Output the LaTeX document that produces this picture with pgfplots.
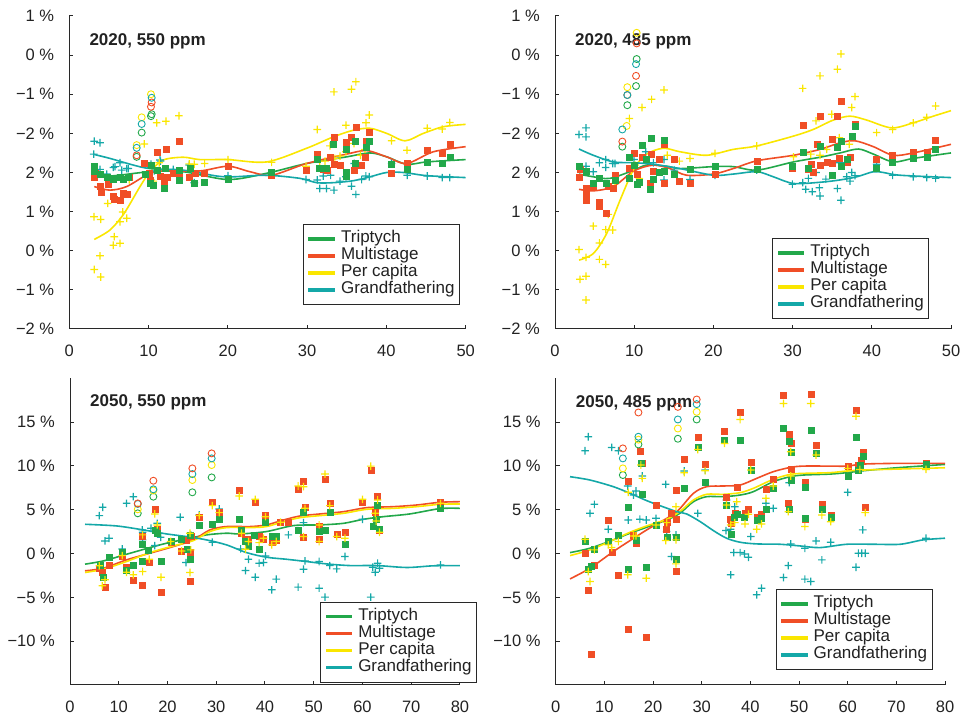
\documentclass[border=0pt]{standalone}
\usepackage{fontspec}
\setmainfont{Liberation Sans}
\usepackage{pgfplots}
\pgfplotsset{compat=1.18}
\definecolor{cg}{RGB}{34,168,74}
\definecolor{cr}{RGB}{240,78,38}
\definecolor{cy}{RGB}{250,230,0}
\definecolor{ct}{RGB}{20,168,168}
\definecolor{txt}{RGB}{34,34,34}
\definecolor{axc}{RGB}{40,40,40}
\newcommand\tickfont{\fontsize{16.5}{18}\selectfont}
\newcommand\legfont{\fontsize{17}{17}\selectfont}
\newcommand\ttlfont{\fontsize{17}{18}\selectfont\bfseries}
\pgfdeclareplotmark{fplus}{%
  \pgfpathrectangle{\pgfpoint{-\pgfplotmarksize}{-0.6pt}}{\pgfpoint{2\pgfplotmarksize}{1.2pt}}%
  \pgfpathrectangle{\pgfpoint{-0.6pt}{-\pgfplotmarksize}}{\pgfpoint{1.2pt}{2\pgfplotmarksize}}%
  \pgfusepathqfill}
\pgfplotsset{
  panel/.style={
    scale only axis, anchor=south west,
    axis x line*=bottom, axis y line*=left,
    tick align=inside, major tick length=4pt,
    axis line style={line width=1pt, color=axc},
    every tick/.style={line width=1pt, color=axc},
    /pgf/number format/assume math mode=true,
    ticklabel style={font=\tickfont, text=txt},
    xticklabel style={anchor=north, inner sep=0pt, yshift=-16pt},
    yticklabel style={anchor=east, inner sep=0pt, xshift=-15pt},
    legend cell align=left,
    legend style={anchor=south east, draw=axc, line width=1pt, font=\legfont, text=txt,
      inner xsep=5pt, inner ysep=6pt, row sep=0pt,
      nodes={inner sep=0pt, text height=12.5pt, text depth=4.5pt},
      /tikz/every odd column/.append style={column sep=6pt}},
    legend image code/.code={\fill[#1] (0pt,-0.8pt) rectangle (25pt,0.8pt);},
  },
  gsq/.style={forget plot, only marks, mark=square*, mark size=3pt, color=cg, mark options={line width=0.3pt}},
  rsq/.style={forget plot, only marks, mark=square*, mark size=3pt, color=cr, mark options={line width=0.3pt}},
  ypl/.style={forget plot, only marks, mark=fplus, mark size=3.8pt, color=cy},
  tpl/.style={forget plot, only marks, mark=fplus, mark size=3.8pt, color=ct},
  circ/.style={forget plot, only marks, mark=o, mark size=3.5pt, color=#1, mark options={line width=0.9pt}},
  ln/.style={no marks, smooth, line width=1.6pt, color=#1},
}
\begin{document}
\begin{tikzpicture}
\useasboundingbox (0,0) rectangle (965pt,719pt);
% ---------------- 2020, 550 ppm
\begin{axis}[panel, at={(69.3pt,390pt)}, width=396.4pt, height=313pt,
  xmin=0, xmax=50, ymin=-2, ymax=6, xtick={0,10,...,50}, ytick={-2,-1,...,6},
  yticklabels={−2 \%,−1 \%,0 \%,1 \%,2 \%,−2 \%,−1 \%,0 \%,1 \%},
  legend style={at={(0.9856,0.0767)}}]
\addplot[tpl] coordinates {(3.15,2.80)(3.87,2.76)(3.08,2.47)(3.87,2.08)(4.72,1.96)(5.55,2.13)(5.76,2.15)(6.39,2.25)(6.61,2.06)(7.24,2.1)(7.44,2.1)(9.55,2.21)(9.84,2.21)(10.3,2.21)(10.72,2.04)(11.44,2.32)(11.52,2.29)(13.11,2.08)(15.13,2.19)(15.76,1.74)(20.01,1.92)(29.85,1.82)(31.27,1.81)(31.6,1.59)(32.03,1.91)(32.45,1.59)(32.96,1.93)(33.38,1.55)(34.14,1.78)(34.89,1.89)(35.6,1.65)(35.94,2.23)(36.15,1.44)(36.87,1.82)(37.41,1.91)(37.83,1.89)(40.65,2.23)(42.62,1.93)(45.15,1.91)(47.03,1.87)(48.0,1.87)};
\addplot[ypl] coordinates {(3.12,0.87)(3.96,0.80)(4.84,1.21)(6.73,0.99)(7.24,0.83)(6.39,0.74)(5.67,0.36)(5.55,0.14)(6.39,0.19)(3.87,-0.13)(3.15,-0.48)(3.96,-0.67)(9.46,2.73)(11.02,3.27)(12.19,3.31)(13.83,3.45)(10.3,1.81)(10.6,1.78)(7.57,1.81)(11.35,2.25)(12.28,1.85)(15.13,2.22)(15.76,2.21)(17.07,2.23)(20.01,2.33)(25.52,2.26)(29.85,2.16)(31.28,3.10)(31.6,2.29)(32.25,2.29)(32.88,2.68)(33.38,4.06)(33.5,2.36)(34.14,2.42)(34.89,3.21)(34.89,2.53)(35.6,4.13)(35.9,2.74)(36.15,4.32)(36.74,2.44)(37.29,2.59)(37.42,3.27)(37.83,3.47)(40.65,2.81)(42.6,2.57)(45.15,3.13)(47.03,3.11)(48.0,3.28)};
\addplot[rsq] coordinates {(3.15,1.87)(3.24,1.99)(3.87,1.65)(3.96,1.51)(4.84,1.7)(5.55,1.40)(5.67,1.31)(6.39,1.29)(6.81,1.47)(7.24,1.45)(7.57,1.89)(9.42,2.25)(10.09,1.99)(10.18,1.81)(11.02,2.53)(11.44,1.91)(11.98,1.74)(12.19,2.59)(12.36,1.87)(13.11,1.99)(13.83,2.8)(13.83,1.93)(15.13,1.89)(15.85,1.99)(17.07,1.99)(20.01,2.17)(25.52,1.92)(29.85,2.06)(31.27,2.47)(31.6,2.1)(32.03,2.08)(32.54,2.06)(32.96,2.39)(33.38,2.91)(33.42,2.21)(34.14,2.18)(34.89,2.77)(35.6,2.91)(35.94,2.06)(36.15,3.17)(36.82,2.18)(37.29,2.38)(37.41,2.79)(37.83,3.04)(40.65,1.98)(42.62,2.25)(45.15,2.57)(47.03,2.50)(48.0,2.73)};
\addplot[gsq] coordinates {(3.15,2.16)(3.15,2.04)(3.87,1.95)(4.72,1.89)(5.55,1.82)(6.39,1.87)(6.81,1.83)(7.44,1.89)(9.55,1.95)(10.18,1.72)(10.59,1.68)(11.02,2.06)(11.94,1.61)(12.15,2.1)(13.83,2.06)(13.83,1.81)(15.22,2.1)(15.73,1.74)(10.3,2.19)(17.07,1.75)(20.01,1.83)(25.52,2.0)(31.27,2.34)(31.5,2.1)(32.45,2.1)(33.3,2.73)(34.9,2.6)(34.98,2.02)(34.98,1.9)(36.03,2.8)(36.03,2.23)(37.41,2.64)(37.83,2.81)(40.65,2.21)(42.62,2.09)(45.15,2.27)(47.03,2.23)(48.0,2.38)};
\addplot[circ=cg] coordinates {(9.13,3.02)(10.39,3.49)(10.3,3.44)(8.5,2.4)};
\addplot[circ=cr] coordinates {(8.5,2.44)(10.39,3.79)(10.3,3.68)};
\addplot[circ=cy] coordinates {(9.13,3.41)(10.3,4.0)(8.5,2.7)};
\addplot[circ=ct] coordinates {(9.13,3.24)(10.39,3.91)(8.5,2.63)};
\addplot[ln=cg] coordinates {(3.15,1.98)(5.13,1.91)(10.18,2.02)(14.38,2.02)(20.02,1.82)(24.9,1.98)(29.94,2.23)(34.99,2.40)(37.93,2.50)(40.03,2.40)(42.56,2.21)(45.08,2.27)(50,2.33)};
\addlegendentry{Triptych}
\addplot[ln=cr] coordinates {(3.15,1.64)(5.13,1.55)(7.23,1.64)(10.18,1.98)(12.28,2.04)(16.48,2.04)(20.02,2.16)(22.79,2.02)(25.53,1.93)(29.94,2.23)(34.99,2.47)(37.51,2.56)(40.03,2.40)(42.56,2.23)(45.92,2.53)(50,2.66)};
\addlegendentry{Multistage}
\addplot[ln=cy] coordinates {(3.15,0.29)(5.13,0.53)(6.9,0.95)(8.92,1.64)(10.18,2.02)(11.86,2.32)(14.38,2.39)(16.48,2.33)(20.02,2.33)(24.9,2.27)(29.94,2.62)(33.3,2.91)(35.83,3.08)(37.93,3.13)(40.03,3.0)(42.35,2.81)(44.66,3.0)(47.18,3.17)(50,3.23)};
\addlegendentry{Per capita}
\addplot[ln=ct] coordinates {(3.15,2.46)(5.13,2.36)(8.07,2.19)(10.18,2.10)(14.38,2.06)(18.59,1.91)(20.69,1.89)(24.9,1.93)(29.1,1.85)(31.2,1.74)(33.3,1.74)(35.83,1.79)(37.93,1.89)(40.03,2.0)(42.14,2.0)(45.08,1.92)(50,1.87)};
\addlegendentry{Grandfathering}
\node[anchor=base west, inner sep=0pt, font=\ttlfont, text=txt] at (rel axis cs:0.0505,0.905) {2020, 550 ppm};
\end{axis}
% ---------------- 2020, 485 ppm
\begin{axis}[panel, at={(555pt,390pt)}, width=396pt, height=313pt,
  xmin=0, xmax=50, ymin=-2, ymax=6, xtick={0,10,...,50}, ytick={-2,-1,...,6},
  yticklabels={−2 \%,−1 \%,0 \%,1 \%,2 \%,−2 \%,−1 \%,0 \%,1 \%},
  legend style={at={(0.945,0.032)}}]
\addplot[tpl] coordinates {(3.03,2.97)(3.91,3.14)(3.91,2.91)(3.91,2.16)(4.84,2.02)(5.6,2.25)(6.4,2.33)(6.4,2.13)(7.28,2.23)(7.58,2.23)(9.97,2.33)(11.45,2.53)(12.42,2.25)(13.76,2.33)(13.76,1.81)(15.07,2.06)(17.05,1.82)(20.2,1.93)(25.46,2.06)(29.97,1.7)(31.27,1.74)(31.65,1.57)(31.99,1.85)(32.49,1.51)(32.95,2.0)(33.38,1.61)(33.46,1.4)(34.2,1.83)(35.65,1.59)(35.98,2.25)(36.1,1.29)(36.83,1.89)(37.25,1.78)(37.46,2.0)(37.88,1.92)(40.61,2.21)(42.63,1.93)(45.24,1.89)(46.93,1.87)(48.06,1.85)};
\addplot[ypl] coordinates {(3.03,0.03)(3.16,-0.73)(3.91,-0.65)(3.91,-1.26)(3.91,-0.17)(4.84,0.63)(5.6,0.2)(5.6,-0.22)(6.4,-0.35)(6.4,0.54)(6.73,0.93)(7.28,0.53)(7.58,1.72)(9.39,3.38)(10.98,3.66)(12.2,3.87)(13.76,4.11)(10.1,2.19)(10.65,1.85)(14.18,2.44)(15.7,2.29)(17.05,2.36)(20.2,2.49)(25.46,2.68)(30.1,2.4)(31.27,4.15)(32.3,2.47)(32.95,3.32)(33.46,4.47)(33.46,2.44)(34.3,2.59)(34.93,3.49)(35.65,4.64)(35.9,2.89)(36.1,5.03)(37.16,2.72)(37.46,3.66)(37.88,3.94)(40.61,3.02)(42.63,3.1)(45.24,3.27)(46.93,3.41)(48.06,3.7)};
\addplot[rsq] coordinates {(3.03,1.87)(3.16,2.08)(3.91,1.59)(3.91,1.48)(3.91,1.29)(4.84,1.64)(5.6,1.23)(5.6,1.15)(6.4,0.95)(6.73,1.65)(7.28,1.61)(7.58,1.93)(9.39,2.1)(9.97,2.5)(10.31,1.96)(10.98,2.38)(12.0,1.74)(12.12,2.47)(12.33,2.04)(13.17,2.33)(13.76,2.73)(13.76,1.74)(15.07,2.33)(15.7,1.78)(17.05,1.74)(20.2,1.96)(25.46,2.3)(29.97,2.1)(31.27,3.21)(31.99,2.08)(32.3,2.21)(32.62,2.02)(33.04,2.73)(33.46,3.43)(33.46,2.19)(34.3,2.27)(34.93,2.85)(34.93,2.25)(35.65,3.44)(35.9,2.36)(36.1,3.83)(36.83,2.27)(37.25,2.4)(37.46,2.93)(37.88,3.23)(40.61,2.33)(42.63,2.44)(45.24,2.53)(46.93,2.53)(48.06,2.83)};
\addplot[gsq] coordinates {(3.03,2.17)(3.91,2.04)(4.84,1.74)(5.6,1.85)(6.4,1.74)(7.58,1.81)(9.39,2.39)(9.39,1.85)(9.97,2.19)(10.31,1.7)(10.65,1.75)(10.98,2.7)(11.45,2.33)(12.0,1.57)(12.12,2.89)(12.33,1.83)(13.17,2.0)(13.76,2.83)(13.76,2.04)(15.07,1.95)(17.05,2.08)(20.2,2.17)(25.46,2.08)(29.97,2.15)(31.27,2.53)(31.99,2.1)(33.46,2.68)(34.93,1.93)(35.65,2.66)(36.1,2.17)(36.1,2.79)(36.83,2.33)(37.46,2.93)(37.88,3.19)(40.61,2.1)(42.63,2.27)(45.24,2.36)(46.93,2.39)(48.06,2.59)};
\addplot[circ=cg] coordinates {(8.5,2.66)(9.13,3.72)(10.23,4.21)(10.31,4.9)};
\addplot[circ=cr] coordinates {(8.5,2.79)(9.13,3.98)(10.23,4.47)(10.31,5.3)};
\addplot[circ=cy] coordinates {(9.05,3.19)(9.13,4.18)(10.31,5.57)};
\addplot[circ=ct] coordinates {(8.5,3.1)(9.13,3.98)(10.23,4.77)};
\addplot[ln=cg] coordinates {(3.03,1.96)(4.84,1.89)(6.94,1.85)(9.97,2.06)(11.57,2.19)(14.1,2.16)(15.78,2.10)(19.99,2.15)(22.5,2.15)(25.5,2.06)(30.1,2.27)(33.46,2.39)(36.0,2.5)(38.3,2.6)(40.2,2.47)(42.7,2.27)(45.24,2.36)(50,2.5)};
\addlegendentry{Triptych}
\addplot[ln=cr] coordinates {(3.03,1.57)(4.84,1.53)(7.37,1.64)(9.97,2.04)(12.42,2.19)(14.52,2.10)(16.62,1.93)(19.99,1.96)(22.5,2.10)(25.5,2.30)(30.1,2.44)(33.46,2.59)(36.0,2.76)(37.88,2.81)(40.2,2.66)(42.7,2.44)(45.24,2.5)(50,2.72)};
\addlegendentry{Multistage}
\addplot[ln=cy] coordinates {(3.03,-0.24)(4.84,-0.07)(6.52,0.44)(8.21,1.29)(9.97,2.1)(11.57,2.47)(13.68,2.62)(15.78,2.53)(19.15,2.44)(22.5,2.59)(25.5,2.68)(30.1,2.93)(32.6,3.10)(35.14,3.34)(37.25,3.44)(39.35,3.34)(42.5,3.14)(45.24,3.27)(47.77,3.44)(50,3.58)};
\addlegendentry{Per capita}
\addplot[ln=ct] coordinates {(3.03,2.6)(4.84,2.44)(7.37,2.27)(9.97,2.25)(12.42,2.21)(15.78,2.1)(19.99,1.93)(22.5,1.96)(25.5,2.02)(27.57,1.89)(30.1,1.72)(33.46,1.75)(36.0,1.81)(38.1,1.89)(40.2,2.02)(41.46,2.0)(43.56,1.93)(50,1.87)};
\addlegendentry{Grandfathering}
\node[anchor=base west, inner sep=0pt, font=\ttlfont, text=txt] at (rel axis cs:0.0505,0.905) {2020, 485 ppm};
\end{axis}
% ---------------- 2050, 550 ppm
\begin{axis}[panel, at={(70pt,34pt)}, width=390pt, height=306.7pt,
  xmin=0, xmax=80, ymin=-15, ymax=20, xtick={0,10,...,80}, ytick={-10,-5,...,15},
  yticklabels={−10 \%,−5 \%,0 \%,5 \%,10 \%,15 \%},
  legend style={at={(1.044,0.0075)}}]
\addplot[tpl] coordinates {(6.02,4.33)(6.7,5.28)(7.18,1.44)(8.0,1.75)(10.7,0.53)(11.6,5.73)(12.99,6.49)(14.9,1.56)(14.9,2.43)(14.8,2.7)(16.6,2.89)(17.4,0.91)(17.9,3.45)(18.6,1.86)(22.6,4.14)(23.8,-1.03)(24.8,2.13)(26.5,4.4)(29.2,1.29)(30.6,5.09)(35.0,0.53)(36.0,-1.94)(36.6,-0.65)(38.0,-2.7)(38.8,-1.1)(39.7,-1.03)(40.1,-0.27)(41.4,-4.14)(42.3,-2.92)(44.8,2.13)(46.8,-3.83)(47.9,3.53)(47.9,-1.78)(48.2,-0.84)(51.1,-3.95)(51.1,-0.91)(52.3,-4.97)(53.3,-1.37)(54.7,-1.75)(56.4,-0.34)(60.0,3.91)(61.7,-4.97)(62.1,-1.56)(62.6,-2.13)(63.1,-1.1)(63.5,-1.67)(76.0,-1.29)};
\addplot[rsq] coordinates {(6.02,-1.67)(6.63,-2.16)(7.18,-3.87)(8.0,-1.29)(10.7,-0.34)(11.6,-1.56)(12.99,-3.0)(14.9,-3.57)(14.9,2.01)(16.27,-0.99)(17.4,5.05)(17.9,2.77)(18.67,-4.4)(20.65,1.25)(22.9,0.23)(23.8,1.56)(24.6,-3.19)(24.6,0.15)(24.8,1.94)(26.5,4.14)(29.2,5.92)(30.6,4.78)(34.7,7.25)(35.2,2.32)(36.0,1.63)(36.6,1.63)(38.0,5.92)(38.8,1.94)(39.7,1.63)(40.1,4.33)(41.4,1.25)(42.3,1.48)(43.2,3.57)(44.8,3.57)(46.8,7.33)(47.9,8.28)(47.9,1.86)(48.2,5.35)(51.1,3.15)(51.1,1.63)(52.3,8.5)(53.3,5.73)(54.7,2.24)(56.4,2.39)(60.0,5.92)(61.7,9.53)(62.6,4.78)(62.8,3.91)(63.1,6.57)(63.5,2.7)(76.0,5.81)};
\addplot[gsq] coordinates {(6.15,-1.29)(6.84,-2.7)(8.0,-0.42)(10.7,0.11)(11.6,-1.94)(12.99,-1.37)(14.9,1.06)(14.9,-0.91)(16.07,0.42)(17.4,2.62)(17.9,2.32)(18.67,-0.91)(20.65,1.37)(22.9,1.63)(23.93,0.53)(24.6,-0.65)(24.6,2.13)(26.5,3.19)(29.2,3.38)(30.6,3.91)(34.7,3.91)(35.2,2.7)(36.0,1.37)(36.6,0.87)(37.7,2.05)(38.8,0.53)(40.1,3.53)(41.4,2.01)(42.3,1.94)(46.8,2.7)(47.9,4.78)(51.1,2.5)(52.3,2.62)(53.3,4.67)(56.4,1.1)(62.1,3.15)(62.8,3.91)(63.1,5.54)(63.5,2.77)(76.0,5.16)};
\addplot[ypl] coordinates {(6.02,-1.4)(6.63,-3.68)(7.18,-3.0)(10.7,-0.23)(11.6,-2.13)(12.99,-2.43)(14.9,-2.05)(14.9,2.13)(16.27,-0.65)(17.4,4.52)(17.9,3.27)(18.67,-2.7)(20.65,1.37)(22.9,0.3)(24.6,-2.16)(24.6,2.32)(24.8,0.42)(26.5,4.33)(29.2,5.47)(30.6,4.67)(34.7,6.57)(35.2,2.32)(36.0,0.49)(36.6,1.37)(38.0,6.19)(38.8,1.25)(39.7,1.75)(40.1,4.21)(41.4,0.99)(42.3,1.37)(43.2,3.57)(46.8,7.71)(47.9,7.63)(47.9,1.94)(48.2,5.16)(51.1,1.37)(51.1,3.27)(52.3,9.07)(53.3,5.47)(54.7,1.94)(56.4,1.75)(60.0,6.19)(61.7,9.98)(62.6,4.59)(62.8,3.72)(63.1,6.11)(63.5,2.43)(76.0,5.73)};
\addplot[circ=cg] coordinates {(13.9,4.59)(17.1,6.49)(25.1,6.99)(29.06,8.69)};
\addplot[circ=cy] coordinates {(13.9,5.05)(17.1,7.2)(25.1,8.39)(29.06,10.1)};
\addplot[circ=ct] coordinates {(13.9,5.66)(17.1,7.33)(25.1,9.07)(29.06,10.86)};
\addplot[circ=cr] coordinates {(13.9,5.72)(17.1,8.31)(25.1,9.72)(29.06,11.43)};
\addplot[ln=cg] coordinates {(3.08,-1.21)(6.84,-0.84)(11.6,-0.08)(16.4,0.68)(19.8,1.18)(23.9,1.67)(28.0,2.13)(32.1,2.32)(34.9,2.24)(40.3,2.51)(45.8,3.19)(51.3,3.27)(56.1,3.45)(60.2,3.91)(64.3,4.21)(69.7,4.52)(75.9,5.13)(80,5.16)};
\addlegendentry{Triptych}
\addplot[ln=cr] coordinates {(3.08,-1.97)(6.84,-1.67)(11.6,-0.72)(16.4,0.04)(21.2,0.80)(25.3,1.56)(28.7,2.7)(32.1,3.08)(36.9,3.08)(40.3,3.27)(43.8,3.83)(47.2,4.29)(51.3,4.52)(56.1,4.78)(60.9,5.24)(66.3,5.35)(71.1,5.54)(75.9,5.85)(80,5.92)};
\addlegendentry{Multistage}
\addplot[ln=cy] coordinates {(3.08,-2.16)(6.84,-1.78)(11.6,-0.91)(16.4,0.11)(21.2,0.87)(25.3,1.48)(28.7,2.51)(32.1,2.96)(36.9,2.96)(40.3,3.08)(43.8,3.64)(47.2,4.1)(51.3,4.33)(56.1,4.59)(60.9,5.05)(66.3,5.16)(71.1,5.35)(75.9,5.62)(80,5.66)};
\addlegendentry{Per capita}
\addplot[ln=ct] coordinates {(3.08,3.34)(9.57,3.15)(15.0,2.7)(19.8,2.24)(23.9,1.94)(28.0,1.56)(32.1,0.99)(36.2,0.11)(40.3,-0.42)(44.4,-0.65)(48.5,-0.91)(52.6,-1.18)(57.4,-1.37)(62.9,-1.37)(69.1,-1.59)(74.5,-1.40)(80,-1.37)};
\addlegendentry{Grandfathering}
\node[anchor=base west, inner sep=0pt, font=\ttlfont, text=txt] at (rel axis cs:0.0513,0.907) {2050, 550 ppm};
\end{axis}
% ---------------- 2050, 485 ppm
\begin{axis}[panel, at={(555.7pt,34pt)}, width=389.3pt, height=306.7pt,
  xmin=0, xmax=80, ymin=-15, ymax=20, xtick={0,10,...,80}, ytick={-10,-5,...,15},
  yticklabels={−10 \%,−5 \%,0 \%,5 \%,10 \%,15 \%},
  legend style={at={(0.968,0.049)}}]
\addplot[tpl] coordinates {(6.03,11.73)(6.7,13.33)(7.05,4.59)(7.95,5.62)(10.8,2.77)(11.5,12.11)(12.88,11.73)(14.8,7.71)(14.9,3.83)(16.0,6.68)(16.5,7.14)(17.3,3.91)(17.8,8.85)(18.6,3.83)(20.6,4.02)(22.6,7.9)(22.8,2.51)(23.8,-0.34)(24.7,2.13)(26.4,9.42)(29.2,4.59)(30.7,9.53)(35.0,2.62)(35.1,6.11)(35.96,2.77)(35.96,-2.43)(36.6,0.11)(36.8,5.35)(37.9,0.11)(38.8,-0.04)(39.6,-0.42)(40.1,1.94)(41.3,-4.71)(42.3,-3.95)(43.2,5.73)(44.7,5.16)(46.8,-2.73)(47.8,-1.37)(48.0,8.09)(48.3,1.1)(51.2,0.61)(51.2,-2.92)(52.4,-3.19)(53.5,1.44)(54.7,-0.72)(56.5,1.29)(60.0,6.99)(61.7,-1.56)(62.2,0.04)(62.9,0.04)(63.6,0.04)(63.1,2.7)(76.1,1.75)};
\addplot[rsq] coordinates {(6.03,0.04)(6.7,-4.14)(7.19,-11.43)(7.88,-1.29)(10.8,3.76)(11.5,0.11)(12.88,-2.43)(14.8,-8.58)(14.9,8.28)(16.0,2.13)(16.5,1.18)(17.3,11.73)(17.8,10.36)(18.6,-9.53)(20.6,5.54)(22.6,2.77)(22.8,3.64)(23.8,4.59)(24.7,-2.05)(24.7,3.91)(24.7,7.25)(26.4,10.74)(29.2,13.25)(30.7,10.21)(34.7,14.0)(35.1,6.38)(35.8,3.91)(35.96,3.45)(36.8,4.59)(37.2,7.56)(37.9,16.17)(38.9,4.59)(39.6,5.05)(40.1,10.4)(41.3,4.14)(42.3,4.52)(43.2,7.33)(44.7,8.47)(46.8,18.07)(47.8,5.73)(48.0,13.59)(48.3,12.57)(48.3,9.6)(51.2,8.2)(51.2,3.91)(52.4,18.19)(53.5,12.38)(54.7,5.66)(56.5,4.4)(60.0,9.98)(61.7,16.36)(62.1,10.1)(62.8,10.67)(63.1,11.62)(63.6,5.35)(76.1,10.29)};
\addplot[gsq] coordinates {(6.03,1.44)(6.7,-1.78)(7.19,-1.48)(7.95,0.49)(10.8,1.44)(12.88,2.05)(14.8,-1.78)(14.9,5.28)(16.5,1.56)(17.5,10.36)(17.8,6.76)(18.6,-1.56)(20.6,3.19)(22.8,1.82)(24.7,1.82)(24.7,-0.61)(26.4,7.52)(29.2,12.11)(30.7,8.12)(34.7,12.95)(35.1,5.54)(35.96,2.24)(36.6,4.14)(37.2,4.52)(37.9,12.95)(38.8,4.14)(40.1,9.53)(41.3,3.76)(42.3,4.02)(43.2,5.09)(44.7,7.44)(46.8,14.27)(48.0,12.83)(48.3,11.62)(48.3,8.39)(48.0,5.05)(51.2,7.63)(51.2,4.02)(52.4,14.08)(53.5,11.5)(54.7,5.09)(56.5,4.21)(60.0,8.88)(61.7,13.33)(62.2,9.53)(62.5,10.1)(63.1,11.12)(76.1,10.21)};
\addplot[ypl] coordinates {(6.03,1.63)(6.7,-2.05)(7.05,-3.19)(7.95,0.42)(10.8,0.99)(11.5,0.68)(12.88,1.37)(14.8,-2.43)(14.9,6.99)(16.0,2.01)(16.5,2.01)(17.5,10.1)(17.8,8.58)(18.6,-2.81)(20.6,3.27)(22.6,1.48)(22.8,3.53)(24.7,-1.18)(24.7,1.56)(24.7,5.35)(26.4,9.23)(29.2,11.88)(30.7,9.45)(34.7,12.57)(35.1,5.54)(35.96,3.27)(36.8,3.53)(37.2,5.92)(37.9,15.3)(38.9,3.38)(39.6,4.48)(40.1,9.53)(41.3,2.77)(42.3,3.38)(43.2,6.3)(44.7,7.71)(46.8,17.12)(47.8,4.78)(48.3,11.62)(48.3,8.85)(51.2,3.08)(52.4,17.12)(53.5,11.24)(54.7,4.4)(56.5,3.64)(60.0,9.72)(61.7,15.68)(62.5,9.6)(63.6,4.67)(76.1,9.6)};
\addplot[circ=cg] coordinates {(13.8,8.96)(17.0,12.45)(25.1,13.1)(28.97,15.3)};
\addplot[circ=cy] coordinates {(13.8,9.72)(17.0,13.0)(25.1,14.27)(28.97,16.17)};
\addplot[circ=ct] coordinates {(13.8,10.86)(17.0,13.33)(25.1,15.3)(28.97,17.05)};
\addplot[circ=cr] coordinates {(13.8,12.0)(17.0,16.1)(25.1,16.74)(28.97,17.58)};
\addplot[ln=cg] coordinates {(2.95,0.11)(7.05,0.61)(11.85,1.56)(15.27,2.32)(18.7,3.0)(22.8,3.83)(25.5,4.59)(28.3,5.92)(31.0,6.49)(34.5,6.49)(37.9,6.68)(40.6,7.06)(44.7,8.2)(48.2,8.77)(50.9,8.96)(56.4,9.07)(59.8,9.23)(63.2,9.45)(70.1,9.79)(80,10.17)};
\addlegendentry{Triptych}
\addplot[ln=cr] coordinates {(2.95,-2.89)(7.05,-1.67)(11.85,0.23)(15.27,1.48)(18.7,2.7)(21.4,3.57)(24.9,4.78)(28.3,6.87)(31.0,7.63)(34.5,7.71)(37.9,7.82)(41.3,8.58)(44.7,9.34)(48.2,9.83)(50.9,9.98)(56.4,9.98)(59.8,9.98)(63.2,10.21)(70.1,10.29)(80,10.29)};
\addlegendentry{Multistage}
\addplot[ln=cy] coordinates {(2.95,-0.23)(7.05,0.42)(11.85,1.56)(15.27,2.43)(18.7,3.15)(22.8,3.91)(25.5,4.78)(28.3,6.11)(31.0,6.76)(34.5,6.76)(37.9,6.95)(40.6,7.44)(44.7,8.47)(48.2,9.04)(50.9,9.15)(56.4,9.23)(59.8,9.42)(63.2,9.53)(70.1,9.64)(80,9.79)};
\addlegendentry{Per capita}
\addplot[ln=ct] coordinates {(2.95,8.77)(7.05,8.39)(11.85,7.63)(15.27,6.87)(18.7,6.04)(21.4,5.47)(24.9,4.78)(26.9,4.52)(29.7,3.64)(32.4,2.62)(35.1,1.75)(37.9,1.29)(41.3,1.1)(46.1,1.06)(50.2,0.87)(54.3,0.68)(59.8,1.06)(65.3,1.06)(70.8,1.06)(75.5,1.56)(80,1.75)};
\addlegendentry{Grandfathering}
\node[anchor=base west, inner sep=0pt, font=\ttlfont, text=txt] at (rel axis cs:0.0514,0.905) {2050, 485 ppm};
\end{axis}
\end{tikzpicture}
\end{document}
